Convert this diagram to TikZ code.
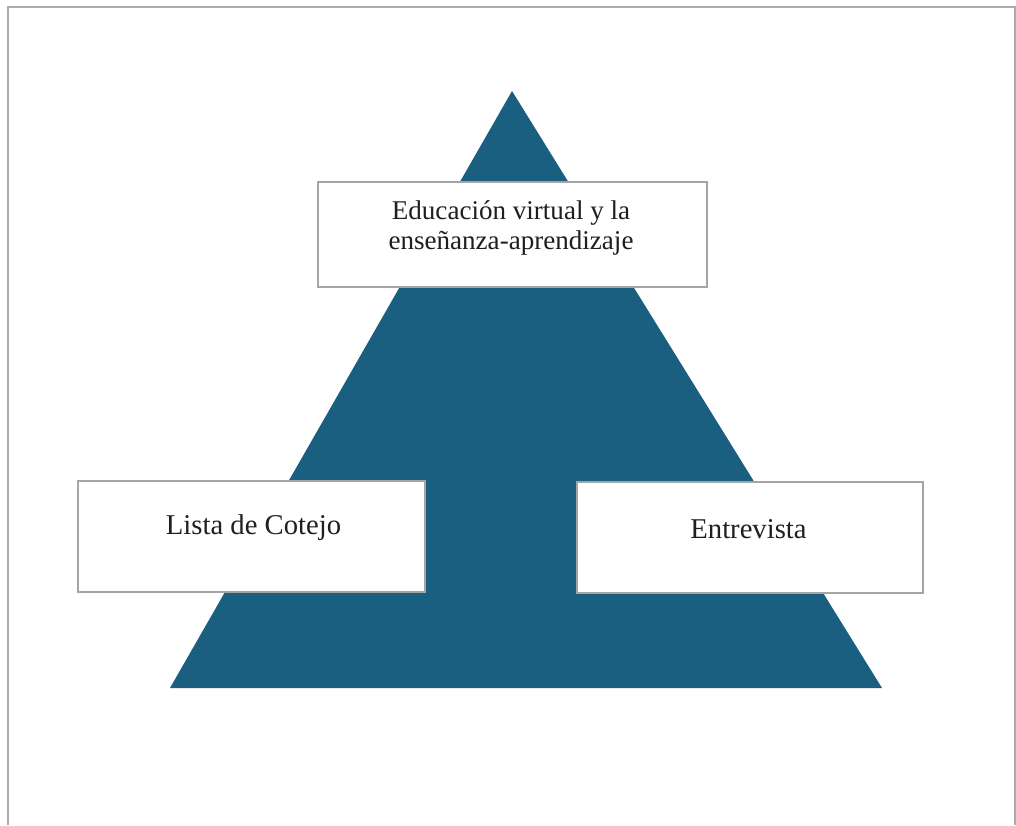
\documentclass[tikz,border=0pt]{standalone}
\usepackage{fontspec}
\setmainfont{Liberation Serif}
\definecolor{piramide}{RGB}{26,94,128}
\definecolor{marco}{RGB}{172,172,172}
\definecolor{borde}{RGB}{165,165,165}
\tikzset{
    caja/.style={draw=borde, line width=0.8pt, fill=white},
    texto/.style={font=\fontsize{20.3}{22.5}\selectfont, text=black!88, align=center},
    textogrande/.style={texto, font=\fontsize{21.5}{24}\selectfont}
}
\begin{document}
\begin{tikzpicture}[x=0.75pt, y=-0.75pt]%% pixel units
    \useasboundingbox (0, 0) rectangle (1016, 825);

        %% marco
        \draw[marco, line width=1.5pt] (8, 825) to (8, 7) to (1015, 7) to (1015, 825);

        %% piramide
        \fill[piramide] (512, 91) to (882, 688) to (170, 688) -- cycle;

        %% cajas
        \draw[caja] (318, 182) rectangle (707, 287);
            \node[texto] (educacion) at (511, 228){Educación virtual y la\\enseñanza-aprendizaje};

        \draw[caja] (78, 481) rectangle (425, 592);
            \node[textogrande] (lista) at (253.5, 528){Lista de Cotejo};

        \draw[caja] (577, 482) rectangle (923, 593);
            \node[textogrande] (entrevista) at (748.5, 529){Entrevista};

\end{tikzpicture}
\end{document}
